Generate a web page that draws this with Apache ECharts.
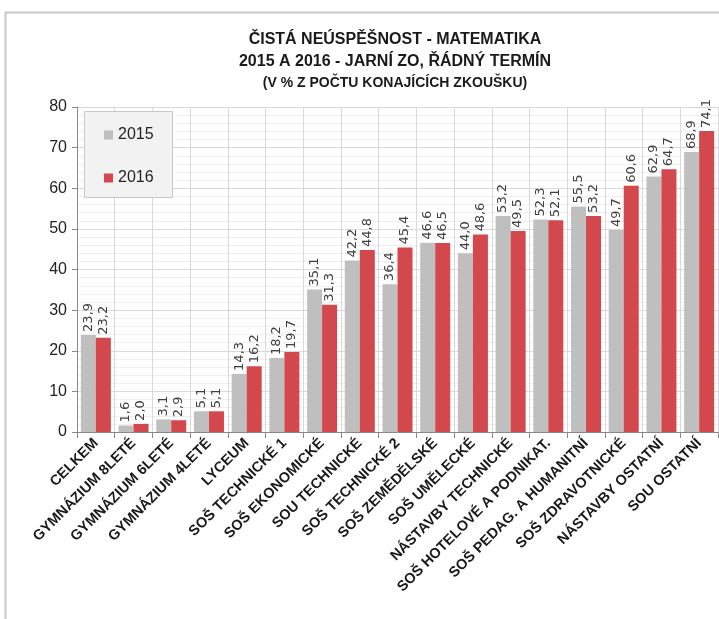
<!DOCTYPE html>
<html>
<head>
<meta charset="utf-8">
<script src="https://cdn.jsdelivr.net/npm/echarts@6/dist/echarts.min.js"></script>
<style>
  html, body { margin: 0; padding: 0; background: #fff; }
  #chart { width: 719px; height: 619px; }
</style>
</head>
<body>
<div id="chart"></div>
<script>
const categories = [
  'CELKEM', 'GYMNÁZIUM 8LETÉ', 'GYMNÁZIUM 6LETÉ', 'GYMNÁZIUM 4LETÉ', 'LYCEUM',
  'SOŠ TECHNICKÉ 1', 'SOŠ EKONOMICKÉ', 'SOU TECHNICKÉ', 'SOŠ TECHNICKÉ 2',
  'SOŠ ZEMĚDĚLSKÉ', 'SOŠ UMĚLECKÉ', 'NÁSTAVBY TECHNICKÉ', 'SOŠ HOTELOVÉ A PODNIKAT.',
  'SOŠ PEDAG. A HUMANITNÍ', 'SOŠ ZDRAVOTNICKÉ', 'NÁSTAVBY OSTATNÍ', 'SOU OSTATNÍ'
];
const values2015 = [23.9, 1.6, 3.1, 5.1, 14.3, 18.2, 35.1, 42.2, 36.4, 46.6, 44.0, 53.2, 52.3, 55.5, 49.7, 62.9, 68.9];
const values2016 = [23.2, 2.0, 2.9, 5.1, 16.2, 19.7, 31.3, 44.8, 45.4, 46.5, 48.6, 49.5, 52.1, 53.2, 60.6, 64.7, 74.1];
const seriesNames = ['2015', '2016'];

const chart = echarts.init(document.getElementById('chart'));

const fmt = p => p.value.toFixed(1).replace('.', ',');
const barLabel = {
  show: true,
  position: 'top',
  rotate: 90,
  align: 'left',
  verticalAlign: 'middle',
  distance: 3,
  color: '#404040',
  fontFamily: 'DejaVu Sans',
  fontSize: 13,
  formatter: fmt
};

const option = {
  animation: false,
  title: {
    text: 'ČISTÁ NEÚSPĚŠNOST - MATEMATIKA\n2015 A 2016 - JARNÍ ZO, ŘÁDNÝ TERMÍN',
    subtext: '(V % Z POČTU KONAJÍCÍCH ZKOUŠKU)',
    left: 390,
    top: 24,
    textAlign: 'center',
    itemGap: 3,
    textStyle: {
      fontFamily: 'Liberation Sans',
      fontWeight: 'bold',
      fontSize: 16,
      lineHeight: 22,
      color: '#1a1a1a'
    },
    subtextStyle: {
      fontFamily: 'Liberation Sans',
      fontWeight: 'bold',
      fontSize: 14,
      color: '#1a1a1a'
    }
  },
  graphic: [
    {
      type: 'rect',
      shape: { x: 5.5, y: 12.5, width: 740, height: 640 },
      style: { fill: 'none', stroke: '#c8c8c8', lineWidth: 2 },
      z: -10
    },
    {
      type: 'rect',
      shape: { x: 84.5, y: 111.5, width: 88, height: 86 },
      style: { fill: '#f2f2f2', stroke: '#c8c8c8', lineWidth: 1 },
      z: 5
    }
  ],
  legend: {
    data: seriesNames,
    orient: 'vertical',
    left: 99,
    top: 122,
    itemGap: 27,
    itemWidth: 9,
    itemHeight: 9,
    icon: 'rect',
    textStyle: { fontFamily: 'Liberation Sans', fontSize: 16, color: '#222' },
    z: 10
  },
  grid: { left: 77, right: 1, top: 107, bottom: 187, containLabel: false },
  xAxis: {
    type: 'category',
    data: categories,
    axisLine: { lineStyle: { color: '#888', width: 1 } },
    axisTick: { show: true, length: 6, lineStyle: { color: '#888' } },
    splitLine: { show: true, lineStyle: { color: '#d9d9d9' } },
    axisLabel: {
      interval: 0,
      rotate: 45,
      margin: 9,
      fontFamily: 'Liberation Sans',
      fontWeight: 'bold',
      fontSize: 14.5,
      color: '#1a1a1a'
    }
  },
  yAxis: {
    type: 'value',
    min: 0,
    max: 80,
    interval: 10,
    minorTick: { show: false, splitNumber: 5 },
    minorSplitLine: { show: true, lineStyle: { color: '#efefef' } },
    splitLine: { show: true, lineStyle: { color: '#d9d9d9' } },
    axisLine: { show: true, lineStyle: { color: '#888' } },
    axisTick: { show: true, length: 5, lineStyle: { color: '#888' } },
    axisLabel: {
      margin: 10,
      fontFamily: 'Liberation Sans',
      fontSize: 16,
      color: '#222'
    }
  },
  series: [
    {
      name: seriesNames[0],
      type: 'bar',
      data: values2015,
      barWidth: 15,
      barGap: '0%',
      itemStyle: { color: '#bfbfbf' },
      label: barLabel
    },
    {
      name: seriesNames[1],
      type: 'bar',
      data: values2016,
      barWidth: 15,
      barGap: '0%',
      itemStyle: { color: '#d2484d' },
      label: barLabel
    }
  ]
};

chart.setOption(option);
</script>
</body>
</html>
